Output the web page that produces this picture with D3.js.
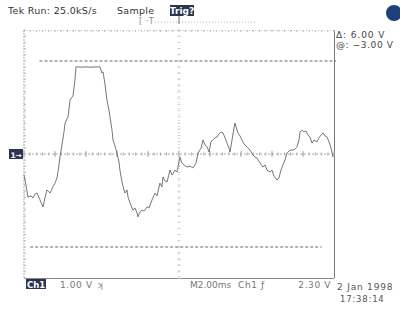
<!DOCTYPE html>
<html><head><meta charset="utf-8">
<script src="https://cdn.jsdelivr.net/npm/d3@7"></script>
<style>body{margin:0;background:#fff}svg{display:block}text{font-family:"DejaVu Sans",sans-serif}</style>
</head><body><svg id="c" width="400" height="333"></svg>
<script>
const timeMs = [0,0.13,0.26,0.45,0.58,0.71,0.84,1.03,1.23,1.35,1.48,1.68,1.87,2.00,2.13,2.26,2.32,2.45,2.58,2.65,2.77,2.84,2.97,3.10,3.16,3.29,3.35,3.48,3.7,4.0,4.3,4.6,4.9,4.97,5.03,5.10,5.23,5.35,5.48,5.55,5.68,5.74,5.87,6.00,6.13,6.19,6.32,6.45,6.52,6.65,6.71,6.84,7.03,7.16,7.29,7.35,7.48,7.61,7.74,7.94,8.06,8.26,8.45,8.58,8.77,8.90,8.97,9.10,9.23,9.42,9.55,9.74,9.87,10.06,10.19,10.32,10.52,10.71,10.90,11.10,11.23,11.42,11.55,11.68,11.81,11.94,12.06,12.19,12.32,12.45,12.58,12.71,12.84,12.97,13.10,13.23,13.29,13.42,13.55,13.61,13.74,13.81,13.94,14.06,14.19,14.39,14.58,14.77,14.90,15.03,15.23,15.42,15.55,15.68,15.87,16.00,16.13,16.32,16.45,16.58,16.71,16.84,16.97,17.10,17.23,17.42,17.61,17.74,17.81,17.94,18.06,18.19,18.32,18.45,18.58,18.71,18.90,19.03,19.16,19.29,19.42,19.55,19.68,19.81,19.94];
const volts = [-0.68,-1.00,-1.39,-1.35,-1.42,-1.29,-1.26,-1.48,-1.71,-1.42,-1.16,-1.26,-1.06,-0.94,-0.77,-0.35,-0.10,0.29,0.71,1.00,1.13,1.19,1.74,1.84,1.87,2.39,2.81,2.81,2.80,2.81,2.80,2.81,2.81,2.71,2.61,2.65,2.23,1.74,1.42,1.19,0.77,0.45,0.26,0.03,-0.26,-0.52,-0.90,-1.16,-1.26,-1.16,-1.39,-1.58,-1.81,-1.74,-1.90,-2.03,-1.87,-1.81,-1.84,-1.71,-1.74,-1.48,-1.26,-1.35,-0.94,-1.06,-0.74,-0.87,-0.90,-0.52,-0.68,-0.52,-0.58,-0.10,-0.29,-0.35,-0.42,-0.39,-0.45,-0.29,0.03,0.19,0.45,0.29,0.23,0.06,0.39,0.45,0.52,0.55,0.65,0.71,0.68,0.52,0.35,0.19,0.06,0.45,0.84,1.00,0.77,0.68,0.58,0.45,0.32,0.23,0.13,-0.03,-0.10,-0.13,-0.29,-0.42,-0.35,-0.52,-0.58,-0.52,-0.71,-0.84,-0.77,-0.52,-0.35,-0.19,0.03,0.10,0.13,0.13,0.23,0.45,0.71,0.77,0.71,0.74,0.61,0.55,0.35,0.45,0.39,0.52,0.61,0.68,0.58,0.55,0.39,0.19,-0.10];
const cursorVolts = [3, -3];
const headerLabels = ["Tek Run: 25.0kS/s", "Sample", "Trig?"];
const cursorLabels = ["\u0394: 6.00 V", "@: \u22123.00 V"];
const footerLabels = ["1.00 V", "M2.00ms", "Ch1 \u0192", "2.30 V"];
const dateLabels = ["2 Jan 1998", "17:38:14"];

const svg = d3.select("#c");
const x = d3.scaleLinear().domain([0,20]).range([24,334]);
const y = d3.scaleLinear().domain([-4,4]).range([278,30]);

function txt(px, py, s, size, fill, ls, anchor){
  return svg.append("text").attr("x",px).attr("y",py).attr("font-size",size).attr("fill",fill)
    .attr("letter-spacing",ls||0).attr("text-anchor",anchor||"start").text(s);
}

// frame
svg.append("line").attr("x1",x(0)).attr("x2",x(0)).attr("y1",y(4)).attr("y2",y(-4)).attr("stroke","#aaa").attr("stroke-width",1).attr("stroke-dasharray","2,1");
svg.append("line").attr("x1",x(0)).attr("x2",x(20)).attr("y1",y(-4)+0.5).attr("y2",y(-4)+0.5).attr("stroke","#888").attr("stroke-width",1);
svg.append("line").attr("x1",x(20)+0.5).attr("x2",x(20)+0.5).attr("y1",y(4)).attr("y2",y(-4)).attr("stroke","#777").attr("stroke-width",1);
svg.append("line").attr("x1",x(0)).attr("x2",x(20)).attr("y1",y(4)+0.5).attr("y2",y(4)+0.5).attr("stroke","#bbb").attr("stroke-width",1).attr("stroke-dasharray","1,2");

// center crosshair with ticks
svg.append("line").attr("x1",x(0)).attr("x2",x(20)).attr("y1",y(0)).attr("y2",y(0)).attr("stroke","#aaa").attr("stroke-dasharray","2,2");
svg.append("line").attr("x1",x(10)).attr("x2",x(10)).attr("y1",y(4)).attr("y2",y(-4)).attr("stroke","#bbb").attr("stroke-dasharray","1,5");
const tx = d3.range(0,20.01,0.4);
svg.selectAll(".tx").data(tx).join("line").attr("x1",d=>x(d)).attr("x2",d=>x(d)).attr("y1",y(0)-1.5).attr("y2",y(0)+1.5).attr("stroke","#aaa");
svg.selectAll(".txm").data(d3.range(0,20.01,2)).join("line").attr("x1",d=>x(d)).attr("x2",d=>x(d)).attr("y1",y(0)-3).attr("y2",y(0)+3).attr("stroke","#aaa");
const ty = d3.range(-4,4.01,0.2);
svg.selectAll(".ty").data(ty).join("line").attr("x1",x(10)-1.5).attr("x2",x(10)+1.5).attr("y1",d=>y(d)).attr("y2",d=>y(d)).attr("stroke","#ccc");
svg.selectAll(".tl").data(ty).join("line").attr("x1",x(0)).attr("x2",x(0)+2).attr("y1",d=>y(d)).attr("y2",d=>y(d)).attr("stroke","#bbb");
svg.selectAll(".tt").data(tx).join("line").attr("x1",d=>x(d)).attr("x2",d=>x(d)).attr("y1",y(4)).attr("y2",y(4)+2).attr("stroke","#bbb");

// cursors
svg.selectAll(".cur").data(cursorVolts).join("line")
  .attr("x1",(d,i)=>i===0?x(1):x(0.4)).attr("x2",(d,i)=>i===0?x(20)+2:x(19.2))
  .attr("y1",d=>y(d)).attr("y2",d=>y(d)).attr("stroke","#666").attr("stroke-width",1).attr("stroke-dasharray","3,2");

// trace
const pts = timeMs.map((t,i)=>[t,volts[i]]);
svg.append("path").datum(pts).attr("fill","none").attr("stroke","#666").attr("stroke-width",0.9)
  .attr("d",d3.line().x(d=>x(d[0])).y(d=>y(d[1])));

// header
txt(8,14,headerLabels[0],9.5,"#333",0.3);
txt(117,14,headerLabels[1],9.5,"#333",0.3);
svg.append("rect").attr("x",170).attr("y",5).attr("width",24).attr("height",11).attr("fill","#2a3550");
txt(182,14,headerLabels[2],9,"#fff",0,"middle").attr("font-weight","bold");
txt(139,24,"[ \u00B7T",8,"#888",0.5);
svg.append("line").attr("x1",155).attr("x2",255).attr("y1",22).attr("y2",22).attr("stroke","#bbb").attr("stroke-dasharray","1,2");
svg.append("line").attr("x1",x(10)).attr("x2",x(10)).attr("y1",16).attr("y2",24).attr("stroke","#666");

// blue dot
svg.append("circle").attr("cx",394).attr("cy",13).attr("r",8).attr("fill","#1f3f7a");

// cursor readout
txt(336,38,cursorLabels[0],9,"#444",0.9);
txt(336,48,cursorLabels[1],9,"#444",0.6);

// ground marker
svg.append("rect").attr("x",9).attr("y",y(0)-5).attr("width",14).attr("height",10).attr("fill","#2a3550");
txt(10.5,y(0)+3.5,"1\u2192",7.5,"#fff",-0.5).attr("font-weight","bold");

// footer
svg.append("rect").attr("x",26).attr("y",279).attr("width",20).attr("height",10).attr("fill","#2a3550");
txt(36,287.5,"Ch1",8.5,"#fff",0,"middle").attr("font-weight","bold");
txt(60,288,footerLabels[0],9,"#777",0.6);
txt(97,288,"\u029E",9,"#888");
txt(190,288,footerLabels[1],9,"#777",0);
txt(238,288,footerLabels[2],9,"#777",0.6);
txt(331,288,footerLabels[3],9,"#777",0.6,"end");
txt(337,290,dateLabels[0],9,"#555",0.8);
txt(340,302,dateLabels[1],8.5,"#555",0.8);
</script></body></html>
